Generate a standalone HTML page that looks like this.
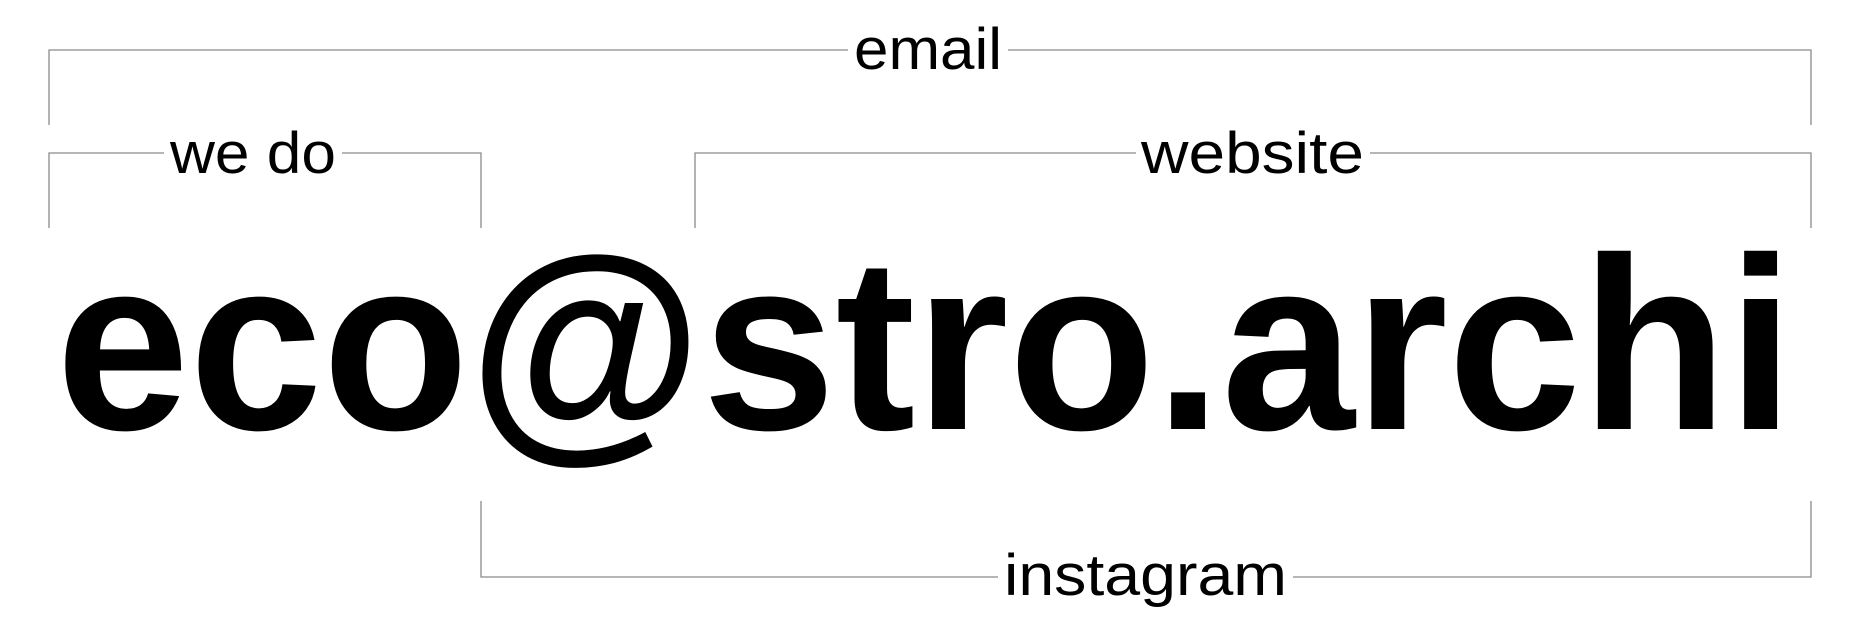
<!DOCTYPE html>
<html><head><meta charset="utf-8"><style>
html,body{margin:0;padding:0;background:#fff;}
svg{display:block;}
text{font-family:"Liberation Sans",sans-serif;fill:#000;}
</style></head><body>
<svg width="1860" height="625" viewBox="0 0 1860 625" xmlns="http://www.w3.org/2000/svg">
<g stroke="#8a8a8a" stroke-width="1.3" fill="none">
<polyline points="49,125 49,50 848,50"/>
<polyline points="1008,50 1811,50 1811,125"/>
<polyline points="49,228 49,153 164,153"/>
<polyline points="342,153 481,153 481,228"/>
<polyline points="695,228 695,153 1136,153"/>
<polyline points="1370,153 1811,153 1811,228"/>
<polyline points="481,501 481,577 998,577"/>
<polyline points="1293,577 1811,577 1811,501"/>
</g>
<text x="854" y="69" font-size="58" textLength="148" lengthAdjust="spacingAndGlyphs">email</text>
<text x="170" y="173" font-size="58" textLength="166" lengthAdjust="spacingAndGlyphs">we do</text>
<text x="1141" y="173" font-size="58" textLength="223" lengthAdjust="spacingAndGlyphs">website</text>
<text x="1004" y="595" font-size="58" textLength="283" lengthAdjust="spacingAndGlyphs">instagram</text>
<text x="56" y="429" font-size="246" font-weight="bold" textLength="1738" lengthAdjust="spacingAndGlyphs">eco@stro.archi</text>
</svg>
</body></html>
